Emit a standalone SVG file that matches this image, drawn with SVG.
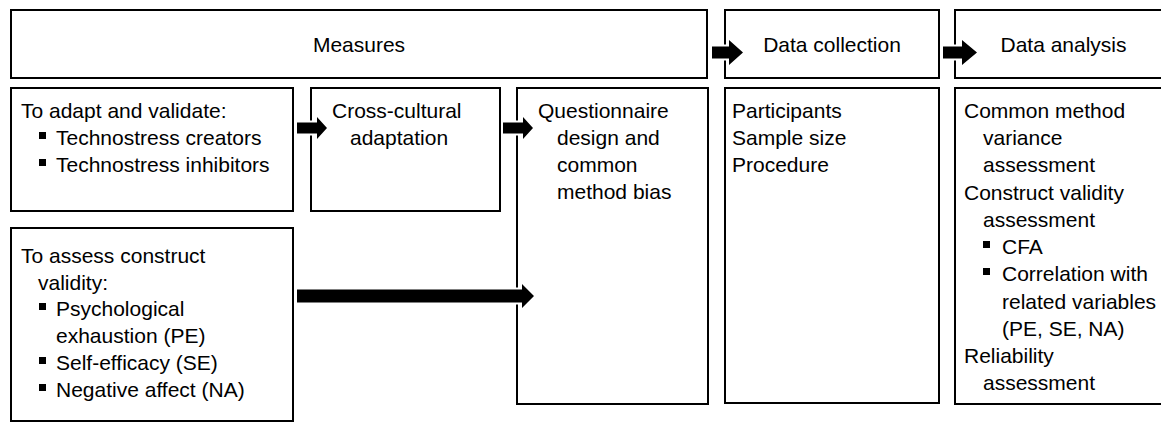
<svg xmlns="http://www.w3.org/2000/svg" width="1161" height="422" viewBox="0 0 1161 422">
<style>
.box{fill:#fff;stroke:#000;stroke-width:2}
.t{font-family:"Liberation Sans",Arial,sans-serif;font-size:21px;fill:#000}
.c{text-anchor:middle}
.b{fill:#000}
.arr{fill:#000;stroke:#fff;stroke-width:4;paint-order:stroke;stroke-linejoin:miter}
</style>
<rect width="1161" height="422" fill="#fff"/>
<g id="measures">
<rect class="box" x="11" y="10" width="696" height="68"/>
<text class="t c" x="359" y="52">Measures</text>
</g>
<g id="data-collection-header">
<rect class="box" x="725" y="10" width="214" height="68"/>
<text class="t c" x="832" y="52">Data collection</text>
</g>
<g id="data-analysis-header">
<rect class="box" x="955" y="10" width="217" height="68"/>
<text class="t c" x="1063.5" y="52">Data analysis</text>
</g>
<g id="adapt-validate">
<rect class="box" x="11" y="88" width="282" height="123"/>
<text class="t" x="21" y="118">To adapt and validate:</text>
<rect class="b" x="39" y="132" width="7" height="7"/>
<text class="t" x="56" y="145">Technostress creators</text>
<rect class="b" x="39" y="159" width="7" height="7"/>
<text class="t" x="56" y="172">Technostress inhibitors</text>
</g>
<g id="cross-cultural">
<rect class="box" x="311" y="88" width="189" height="123"/>
<text class="t" x="332" y="118">Cross-cultural</text>
<text class="t" x="350" y="145">adaptation</text>
</g>
<g id="questionnaire">
<rect class="box" x="517" y="88" width="191" height="316"/>
<text class="t" x="538" y="118">Questionnaire</text>
<text class="t" x="557" y="145">design and</text>
<text class="t" x="557" y="172">common</text>
<text class="t" x="557" y="199">method bias</text>
</g>
<g id="construct-validity">
<rect class="box" x="11" y="228" width="282" height="193"/>
<text class="t" x="21" y="263">To assess construct</text>
<text class="t" x="38" y="290">validity:</text>
<rect class="b" x="39" y="303" width="7" height="7"/>
<text class="t" x="56" y="316">Psychological</text>
<text class="t" x="56" y="343">exhaustion (PE)</text>
<rect class="b" x="39" y="357" width="7" height="7"/>
<text class="t" x="56" y="370">Self-efficacy (SE)</text>
<rect class="b" x="39" y="384" width="7" height="7"/>
<text class="t" x="56" y="397">Negative affect (NA)</text>
</g>
<g id="data-collection">
<rect class="box" x="725" y="88" width="214" height="315"/>
<text class="t" x="732" y="118">Participants</text>
<text class="t" x="732" y="145">Sample size</text>
<text class="t" x="732" y="172">Procedure</text>
</g>
<g id="data-analysis">
<rect class="box" x="955" y="88" width="217" height="316"/>
<text class="t" x="964" y="118">Common method</text>
<text class="t" x="983" y="145">variance</text>
<text class="t" x="983" y="172">assessment</text>
<text class="t" x="964" y="200">Construct validity</text>
<text class="t" x="983" y="227">assessment</text>
<rect class="b" x="983" y="241" width="7" height="7"/>
<text class="t" x="1002" y="254">CFA</text>
<rect class="b" x="983" y="268" width="7" height="7"/>
<text class="t" x="1002" y="281">Correlation with</text>
<text class="t" x="1002" y="309">related variables</text>
<text class="t" x="1002" y="336">(PE, SE, NA)</text>
<text class="t" x="964" y="363">Reliability</text>
<text class="t" x="983" y="390">assessment</text>
</g>
<g id="connectors">
<polygon class="arr" points="297,122.5 317,122.5 317,117 327,128 317,139 317,133.5 297,133.5"/>
<polygon class="arr" points="503,122.5 523,122.5 523,117 533,128 523,139 523,133.5 503,133.5"/>
<polygon class="arr" points="712,46.5 729,46.5 729,40 743,52.5 729,65 729,58.5 712,58.5"/>
<polygon class="arr" points="943,46.5 962,46.5 962,40 977,52.5 962,65 962,58.5 943,58.5"/>
<polygon class="arr" points="297,289.5 522,289.5 522,284 534,296 522,308 522,302.5 297,302.5"/>
</g>
</svg>
